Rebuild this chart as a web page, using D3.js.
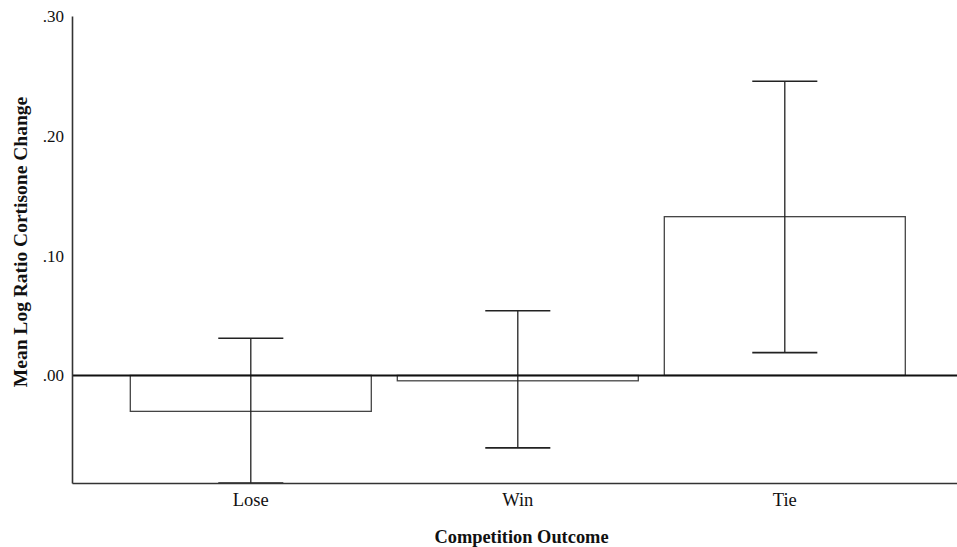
<!DOCTYPE html>
<html>
<head>
<meta charset="utf-8">
<script src="https://cdn.jsdelivr.net/npm/d3@7"></script>
<style>
  body { margin: 0; background: #fff; }
  text { font-family: "Liberation Serif", "Times New Roman", serif; fill: #111; }
</style>
</head>
<body>
<script>
var categories = ["Lose", "Win", "Tie"];
var means = [-0.030, -0.0045, 0.1325];
var upper = [0.031, 0.054, 0.2455];
var lower = [-0.091, -0.0605, 0.019];
var yTicks = [0, 0.1, 0.2, 0.3];
var tickLabels = [".00", ".10", ".20", ".30"];

var width = 957,
  height = 547,
  plotLeft = 72,
  plotRight = 957,
  plotTop = 16,
  plotBottom = 483;

var svg = d3
  .select("body")
  .append("svg")
  .attr("width", width)
  .attr("height", height);

var y = d3.scaleLinear().domain([-0.0898, 0.3]).range([plotBottom, plotTop]);

var x = d3
  .scaleBand()
  .domain(categories)
  .range([plotLeft, plotRight])
  .paddingInner(0.0974)
  .paddingOuter(0.206)
  .align(0.53);

var data = categories.map(function (c, i) {
  return { cat: c, mean: means[i], hi: upper[i], lo: lower[i] };
});

// bars
svg
  .selectAll(".bar")
  .data(data)
  .enter()
  .append("rect")
  .attr("class", "bar")
  .attr("x", (d) => x(d.cat))
  .attr("width", x.bandwidth())
  .attr("y", (d) => y(Math.max(0, d.mean)))
  .attr("height", (d) => Math.abs(y(d.mean) - y(0)))
  .attr("fill", "#fff")
  .attr("stroke", "#444")
  .attr("stroke-width", 1.3);

// error bars (lower end clipped at the axis)
var capW = x.bandwidth() * 0.27;
var cx = (d) => x(d.cat) + x.bandwidth() / 2;
var loY = (d) => y(Math.max(d.lo, y.domain()[0]));
var eb = svg.selectAll(".err").data(data).enter().append("g").attr("class", "err");
eb.append("line")
  .attr("x1", cx)
  .attr("x2", cx)
  .attr("y1", (d) => y(d.hi))
  .attr("y2", loY)
  .attr("stroke", "#222")
  .attr("stroke-width", 1.3);
eb.append("line")
  .attr("x1", (d) => cx(d) - capW / 2)
  .attr("x2", (d) => cx(d) + capW / 2)
  .attr("y1", (d) => y(d.hi))
  .attr("y2", (d) => y(d.hi))
  .attr("stroke", "#222")
  .attr("stroke-width", 1.6);
eb.append("line")
  .attr("x1", (d) => cx(d) - capW / 2)
  .attr("x2", (d) => cx(d) + capW / 2)
  .attr("y1", loY)
  .attr("y2", loY)
  .attr("stroke", "#222")
  .attr("stroke-width", 1.6);

// zero line
svg
  .append("line")
  .attr("x1", plotLeft)
  .attr("x2", plotRight)
  .attr("y1", y(0))
  .attr("y2", y(0))
  .attr("stroke", "#111")
  .attr("stroke-width", 2);

// y axis
var yAxis = d3
  .axisLeft(y)
  .tickValues(yTicks)
  .tickSize(0)
  .tickPadding(8)
  .tickFormat((d, i) => tickLabels[i]);

var gy = svg.append("g").attr("transform", "translate(" + plotLeft + ",0)").call(yAxis);
gy.select(".domain").attr("stroke", "#333").attr("stroke-width", 1.6);
gy.selectAll("text").style("font-size", "17px").attr("fill", "#111");

// x axis
var xAxis = d3.axisBottom(x).tickSize(0).tickPadding(10);
var gx = svg.append("g").attr("transform", "translate(0," + plotBottom + ")").call(xAxis);
gx.select(".domain").attr("stroke", "#333").attr("stroke-width", 1.6);
gx.selectAll("text").style("font-size", "18.5px").attr("fill", "#111");

// titles
svg
  .append("text")
  .attr("x", (plotLeft + plotRight) / 2 + 7)
  .attr("y", 543)
  .attr("text-anchor", "middle")
  .style("font-size", "18.4px")
  .style("font-weight", "bold")
  .text("Competition Outcome");

svg
  .append("text")
  .attr("transform", "translate(27,242) rotate(-90)")
  .attr("text-anchor", "middle")
  .style("font-size", "19.5px")
  .style("font-weight", "bold")
  .text("Mean Log Ratio Cortisone Change");
</script>
</body>
</html>
